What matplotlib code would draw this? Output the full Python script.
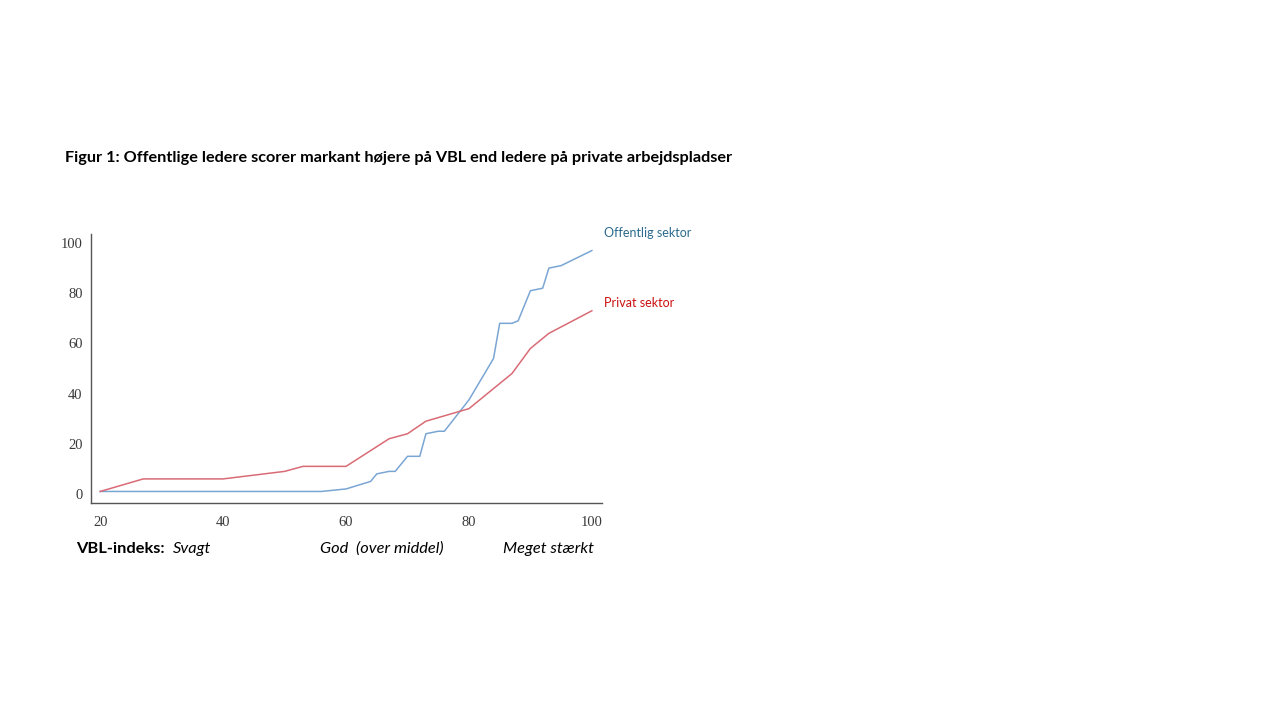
import matplotlib
matplotlib.use("Agg")
import matplotlib.pyplot as plt

# Data
off_x = [20, 56, 60, 64, 65, 67, 68, 70, 72, 73, 75, 76, 80, 84, 85, 87, 88, 90, 92, 93, 95, 100]
off_y = [1, 1, 2, 5, 8, 9, 9, 15, 15, 24, 25, 25, 37.5, 54, 68, 68, 69, 81, 82, 90, 91, 97]
priv_x = [20, 27, 40, 50, 53, 60, 67, 70, 73, 80, 87, 90, 93, 100]
priv_y = [1, 6, 6, 9, 11, 11, 22, 24, 29, 34, 48, 58, 64, 73]
x_ticks = [20, 40, 60, 80, 100]
y_ticks = [0, 20, 40, 60, 80, 100]
series_names = ["Offentlig sektor", "Privat sektor"]
title = "Figur 1: Offentlige ledere scorer markant højere på VBL end ledere på private arbejdspladser"
scale_labels = ["Svagt", "God  (over middel)", "Meget stærkt"]

W, H = 1280, 720
fig = plt.figure(figsize=(12.8, 7.2), dpi=100)
ax = fig.add_axes([91 / W, 1 - 503 / H, (601.7 - 91) / W, (503 - 234) / H])

blue = "#7aa6d4"
red = "#d96b76"
ax.plot(off_x, off_y, color=blue, lw=1.1)
ax.plot(priv_x, priv_y, color=red, lw=1.1)

ax.set_xlim(18.5, 101.6)
ax.set_ylim(-3.6, 103.6)
ax.set_xticks(x_ticks)
ax.set_yticks(y_ticks)
for s in ["top", "right"]:
    ax.spines[s].set_visible(False)
for s in ["left", "bottom"]:
    ax.spines[s].set_color("#555555")
    ax.spines[s].set_linewidth(1.0)
ax.tick_params(length=0, labelsize=10.5, colors="#3a3a3a")
ax.tick_params(axis="x", pad=9)
ax.tick_params(axis="y", pad=6)
for lab in ax.get_xticklabels() + ax.get_yticklabels():
    lab.set_fontfamily("Liberation Serif")

sans = ["Lato", "DejaVu Sans"]
fig.text(65 / W, 1 - 158 / H, title, fontsize=11.7, fontweight="bold",
         family=sans, va="center", ha="left", color="black")

fig.text(604 / W, 1 - 233 / H, series_names[0], fontsize=9, family=sans,
         color="#2a6a8e", va="center", ha="left")
fig.text(604 / W, 1 - 303 / H, series_names[1], fontsize=9, family=sans,
         color="#cc1010", va="center", ha="left")

fig.text(76 / W, 1 - 549 / H, "VBL-indeks:", fontsize=11.8, fontweight="bold",
         family=sans, va="center", ha="left")
for xpix, lab in zip([173, 320, 503], scale_labels):
    fig.text(xpix / W, 1 - 549 / H, lab, fontsize=11.8, style="italic",
             family=sans, va="center", ha="left")

fig.savefig("out.png", dpi=100, facecolor="white")
